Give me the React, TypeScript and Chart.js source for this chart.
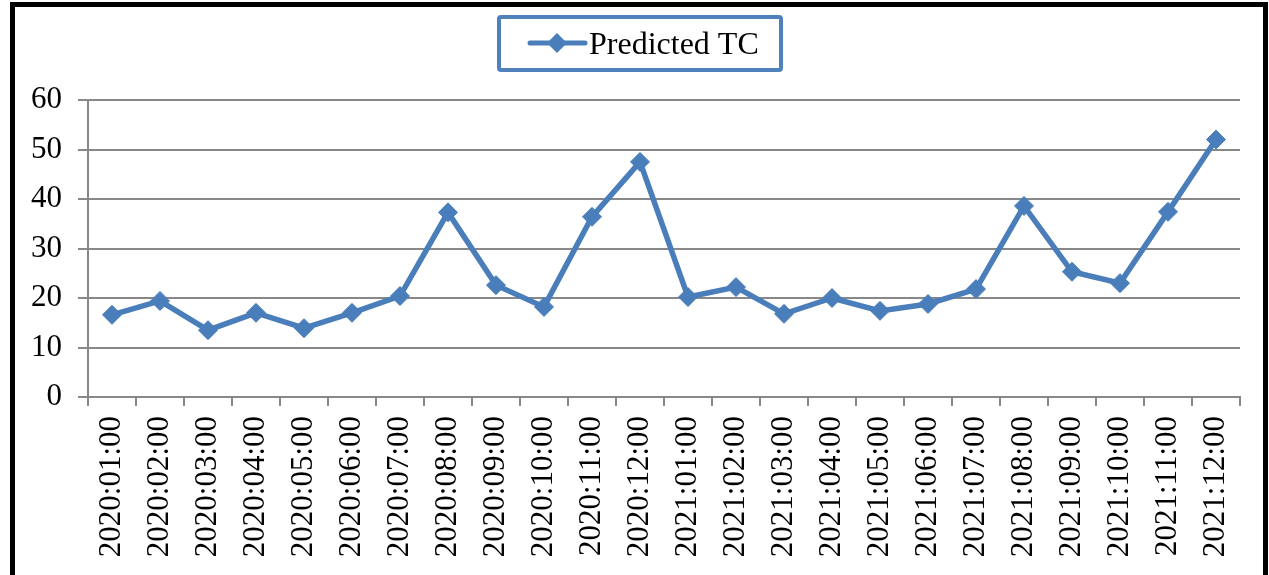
import React, { useEffect, useRef } from "react";
import { Chart, registerables } from "chart.js";

Chart.register(...registerables);

const categories: string[] = [
  "2020:01:00", "2020:02:00", "2020:03:00", "2020:04:00", "2020:05:00", "2020:06:00",
  "2020:07:00", "2020:08:00", "2020:09:00", "2020:10:00", "2020:11:00", "2020:12:00",
  "2021:01:00", "2021:02:00", "2021:03:00", "2021:04:00", "2021:05:00", "2021:06:00",
  "2021:07:00", "2021:08:00", "2021:09:00", "2021:10:00", "2021:11:00", "2021:12:00",
];

const predictedTC: number[] = [
  16.6, 19.4, 13.5, 17.0, 13.9, 17.0,
  20.4, 37.3, 22.6, 18.2, 36.4, 47.5,
  20.2, 22.2, 16.8, 20.0, 17.4, 18.8,
  21.8, 38.6, 25.3, 23.0, 37.4, 52.0,
];

const seriesLabel = "Predicted TC";
const yTicks: number[] = [0, 10, 20, 30, 40, 50, 60];

const FONT = "'Liberation Serif', 'Times New Roman', serif";
const LINE_COLOR = "#4A7EBB";
const LEGEND_BORDER = "#4F81BD";
const GRID = "#888888";

const framePlugin = {
  id: "frameAndLegend",
  afterDraw(chart: any) {
    const ctx = chart.ctx as CanvasRenderingContext2D;
    ctx.save();
    // outer black frame
    ctx.strokeStyle = "#000";
    ctx.lineWidth = 5;
    ctx.beginPath();
    ctx.moveTo(12.5, 580);
    ctx.lineTo(12.5, 4.5);
    ctx.lineTo(1265.5, 4.5);
    ctx.lineTo(1265.5, 580);
    ctx.stroke();

    // legend box
    ctx.strokeStyle = LEGEND_BORDER;
    ctx.lineWidth = 4;
    ctx.beginPath();
    if ((ctx as any).roundRect) {
      (ctx as any).roundRect(499, 17, 282, 53, 2);
    } else {
      ctx.rect(499, 17, 282, 53);
    }
    ctx.stroke();

    // legend marker line
    ctx.strokeStyle = LINE_COLOR;
    ctx.lineWidth = 5;
    ctx.lineCap = "round";
    ctx.beginPath();
    ctx.moveTo(530, 43);
    ctx.lineTo(585, 43);
    ctx.stroke();
    // diamond
    ctx.fillStyle = LINE_COLOR;
    ctx.beginPath();
    const cx = 557, cy = 43, r = 10;
    ctx.moveTo(cx, cy - r);
    ctx.lineTo(cx + r, cy);
    ctx.lineTo(cx, cy + r);
    ctx.lineTo(cx - r, cy);
    ctx.closePath();
    ctx.fill();

    // legend text
    ctx.fillStyle = "#000";
    ctx.font = `32px ${FONT}`;
    ctx.textBaseline = "alphabetic";
    ctx.textAlign = "left";
    ctx.fillText(chart.data.datasets[0].label, 589, 54);
    ctx.restore();
  },
};

export default function App() {
  const canvasRef = useRef<HTMLCanvasElement | null>(null);

  useEffect(() => {
    document.body.style.margin = "0";
    const canvas = canvasRef.current;
    if (!canvas) return;
    const chart = new Chart(canvas, {
      type: "line",
      data: {
        labels: categories,
        datasets: [
          {
            label: seriesLabel,
            data: predictedTC,
            borderColor: LINE_COLOR,
            backgroundColor: LINE_COLOR,
            borderWidth: 5.5,
            pointStyle: "rectRot",
            pointRadius: 9.5,
            pointHoverRadius: 9.5,
            pointBackgroundColor: LINE_COLOR,
            pointBorderColor: LINE_COLOR,
            pointBorderWidth: 1,
            tension: 0,
            fill: false,
          },
        ],
      },
      options: {
        responsive: false,
        animation: false,
        devicePixelRatio: 1,
        layout: { padding: { top: 100, left: 0, right: 29, bottom: 0 } },
        plugins: {
          legend: { display: false },
          title: { display: false },
          tooltip: { enabled: false },
        },
        scales: {
          x: {
            type: "category",
            offset: true,
            afterFit(scale: any) {
              scale.height = 178;
            },
            grid: {
              offset: true,
              drawOnChartArea: false,
              drawTicks: true,
              tickLength: 9,
              color: GRID,
              lineWidth: 2,
            },
            border: { display: true, color: GRID, width: 2 },
            ticks: {
              autoSkip: false,
              maxRotation: 90,
              minRotation: 90,
              padding: 10,
              color: "#000",
              font: { family: FONT, size: 31 },
            },
          },
          y: {
            min: 0,
            max: 60,
            afterFit(scale: any) {
              scale.width = 88;
            },
            afterBuildTicks(scale: any) {
              scale.ticks = yTicks.map((v) => ({ value: v }));
            },
            grid: {
              color: GRID,
              lineWidth: 2,
              drawTicks: true,
              tickLength: 10,
            },
            border: { display: true, color: GRID, width: 2 },
            ticks: {
              stepSize: 10,
              padding: 16,
              color: "#000",
              font: { family: FONT, size: 31 },
            },
          },
        },
      },
      plugins: [framePlugin],
    } as any);
    return () => chart.destroy();
  }, []);

  return (
    <div style={{ position: "absolute", left: 0, top: 0, width: 1269, height: 575, background: "#fff" }}>
      <canvas ref={canvasRef} width={1269} height={575} style={{ width: 1269, height: 575, display: "block" }} />
    </div>
  );
}
